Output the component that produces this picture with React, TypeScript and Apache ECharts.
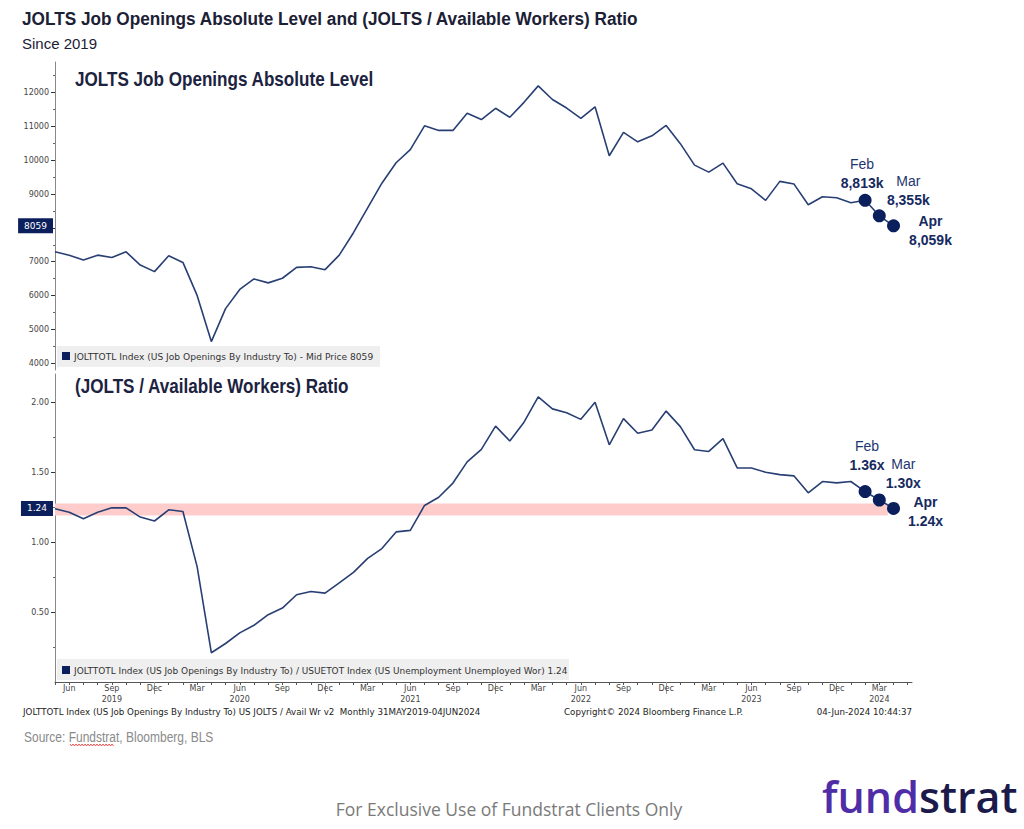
import React, { useEffect, useRef } from "react";
import * as echarts from "echarts";

// ---- Data (monthly, May 2019 .. Apr 2024) ----
const categories = [
  "2019-05","2019-06","2019-07","2019-08","2019-09","2019-10","2019-11","2019-12",
  "2020-01","2020-02","2020-03","2020-04","2020-05","2020-06","2020-07","2020-08","2020-09","2020-10","2020-11","2020-12",
  "2021-01","2021-02","2021-03","2021-04","2021-05","2021-06","2021-07","2021-08","2021-09","2021-10","2021-11","2021-12",
  "2022-01","2022-02","2022-03","2022-04","2022-05","2022-06","2022-07","2022-08","2022-09","2022-10","2022-11","2022-12",
  "2023-01","2023-02","2023-03","2023-04","2023-05","2023-06","2023-07","2023-08","2023-09","2023-10","2023-11","2023-12",
  "2024-01","2024-02","2024-03","2024-04",
];

// JOLTS job openings, thousands
const joltsLevel = [
  7291, 7193, 7047, 7193, 7125, 7291, 6901, 6706, 7174, 6979,
  6004, 4639, 5614, 6179, 6491, 6374, 6511, 6833, 6852, 6764,
  7193, 7856, 8588, 9319, 9923, 10313, 11015, 10879, 10879, 11386,
  11201, 11532, 11269, 11708, 12195, 11793, 11540, 11232, 11575, 10129,
  10819, 10542, 10719, 11025, 10488, 9854, 9647, 9913, 9302, 9154,
  8812, 9373, 9293, 8682, 8918, 8889, 8741, 8813, 8355, 8059,
];

// JOLTS / available workers ratio
const joltsRatio = [
  1.237, 1.213, 1.166, 1.213, 1.244, 1.244, 1.178, 1.150, 1.230, 1.218,
  0.824, 0.209, 0.275, 0.351, 0.405, 0.481, 0.528, 0.623, 0.646, 0.635,
  0.708, 0.783, 0.883, 0.953, 1.072, 1.083, 1.261, 1.320, 1.421, 1.572,
  1.662, 1.828, 1.721, 1.856, 2.036, 1.951, 1.923, 1.876, 1.999, 1.694,
  1.881, 1.777, 1.800, 1.935, 1.824, 1.659, 1.647, 1.739, 1.529, 1.529,
  1.498, 1.481, 1.472, 1.351, 1.432, 1.422, 1.432, 1.36, 1.30, 1.24,
];

const highlightIdx = [57, 58, 59];
const highlightNames = ["Feb", "Mar", "Apr"];

const levelTicks = [4000, 5000, 6000, 7000, 8000, 9000, 10000, 11000, 12000];
const levelTickLabels = [4000, 5000, 6000, 7000, 9000, 10000, 11000, 12000];
const levelMinorTicks = [4500, 5500, 6500, 7500, 8500, 9500, 10500, 11500, 12500];
const ratioTicks = [0.5, 1.0, 1.5, 2.0];
const ratioMinorTicks = [0.25, 0.75, 1.25, 1.75];

const monthLabelIdx = [1, 4, 7, 10, 13, 16, 19, 22, 25, 28, 31, 34, 37, 40, 43, 46, 49, 52, 55, 58];
const yearLabelIdx = [4, 13, 25, 37, 49, 58];
const yearLabels = ["2019", "2020", "2021", "2022", "2023", "2024"];
const yearSeparatorIdx = [7, 19, 31, 43, 55];

const bandRange = [1.19, 1.275];

const MONTH_ABBR = ["Jan","Feb","Mar","Apr","May","Jun","Jul","Aug","Sep","Oct","Nov","Dec"];

const NAVY = "#0b1f5c";
const LINE = "#283f74";
const SMALL = "DejaVu Sans";
const ARIAL = '"Liberation Sans", Arial, sans-serif';

export default function App() {
  const ref = useRef<HTMLDivElement>(null);

  useEffect(() => {
    document.body.style.margin = "0";
    const chart = echarts.init(ref.current!, null, { renderer: "svg" });

    const allMonthTicks = categories.map((_, i) => i).concat([60]);
    const xMax = 60.3;

    const levelData = joltsLevel.map((v, i) => [i, v]);
    const ratioData = joltsRatio.map((v, i) => [i, v]);

    const levelOffsets = [[-3, -27], [29, -25], [37, 5]];
    const ratioOffsets = [[2, -36], [24, -27], [32, 3]];

    const annoRich = {
      n: { fontSize: 14, fontFamily: ARIAL, color: "#1d3670", lineHeight: 19, align: "center" },
      nb: { fontSize: 14, fontFamily: ARIAL, fontWeight: "bold", color: "#152a5e", lineHeight: 19, align: "center" },
      b: { fontSize: 14, fontFamily: ARIAL, fontWeight: "bold", color: "#152a5e", lineHeight: 19, align: "center" },
    };

    const levelMarkers = highlightIdx.map((idx, k) => ({
      value: [idx, joltsLevel[idx]],
      label: {
        offset: levelOffsets[k],
        formatter:
          "{" + (k === 2 ? "nb" : "n") + "|" + highlightNames[k] + "}\n{b|" +
          (joltsLevel[idx] / 1000).toFixed(3).replace(".", ",") + "k}",
      },
    }));
    const ratioMarkers = highlightIdx.map((idx, k) => ({
      value: [idx, joltsRatio[idx]],
      label: {
        offset: ratioOffsets[k],
        formatter:
          "{" + (k === 2 ? "nb" : "n") + "|" + highlightNames[k] + "}\n{b|" +
          joltsRatio[idx].toFixed(2) + "x}",
      },
    }));

    const yLabelStyle = { fontFamily: SMALL, fontSize: 8, color: "#444", margin: 6 };

    const tagLabel = (text: string) => ({
      show: true,
      position: "start",
      formatter: text,
      backgroundColor: NAVY,
      color: "#fff",
      fontFamily: SMALL,
      fontSize: 9,
      padding: [3, 6, 3, 6],
      distance: 2,
    });

    const last = joltsLevel[joltsLevel.length - 1];
    const lastRatio = joltsRatio[joltsRatio.length - 1];

    // squiggle under "Fundstrat"
    const squiggle: number[][] = [];
    for (let x = 70, k = 0; x <= 114; x += 1.5, k++) squiggle.push([x, k % 2 === 0 ? 744 : 746]);

    const option: any = {
      animation: false,
      backgroundColor: "#ffffff",
      grid: [
        { left: 55, top: 62, width: 857, height: 308 },
        { left: 55, top: 374, width: 857, height: 308 },
      ],
      xAxis: [
        { type: "value", gridIndex: 0, min: 0, max: xMax, show: false },
        {
          type: "value",
          gridIndex: 1,
          min: 0,
          max: xMax,
          position: "bottom",
          splitLine: { show: false },
          axisLine: { show: true, lineStyle: { color: "#555", width: 1 } },
          axisTick: { show: true, customValues: allMonthTicks, length: 3, lineStyle: { color: "#555" } },
          axisLabel: {
            show: true,
            customValues: monthLabelIdx,
            fontFamily: SMALL,
            fontSize: 8,
            color: "#444",
            margin: 1,
            lineHeight: 11,
            formatter: (v: number) => {
              const i = Math.round(v);
              const m = MONTH_ABBR[parseInt(categories[i].slice(5), 10) - 1];
              const yi = yearLabelIdx.indexOf(i);
              return yi >= 0 ? m + "\n" + yearLabels[yi] : m;
            },
          },
        },
        {
          type: "value",
          gridIndex: 1,
          min: 0,
          max: xMax,
          position: "bottom",
          offset: 11,
          splitLine: { show: false },
          axisLine: { show: false },
          axisTick: { show: true, customValues: yearSeparatorIdx, length: 12, lineStyle: { color: "#999" } },
          axisLabel: { show: false },
        },
      ],
      yAxis: [
        {
          type: "value",
          gridIndex: 0,
          position: "left",
          min: 3800,
          max: 12900,
          splitLine: { show: false },
          axisLine: { show: true, lineStyle: { color: "#888" } },
          axisTick: { show: true, customValues: levelTicks, length: 4, lineStyle: { color: "#333" } },
          axisLabel: { ...yLabelStyle, customValues: levelTickLabels, formatter: (v: number) => String(v) },
        },
        {
          type: "value",
          gridIndex: 0,
          position: "left",
          min: 3800,
          max: 12900,
          splitLine: { show: false },
          axisLine: { show: false },
          axisTick: { show: true, customValues: levelMinorTicks, length: 2, lineStyle: { color: "#666" } },
          axisLabel: { show: false },
        },
        {
          type: "value",
          gridIndex: 1,
          position: "left",
          min: 0,
          max: 2.2,
          splitLine: { show: false },
          axisLine: { show: true, lineStyle: { color: "#888" } },
          axisTick: { show: true, customValues: ratioTicks, length: 4, lineStyle: { color: "#333" } },
          axisLabel: { ...yLabelStyle, customValues: ratioTicks, formatter: (v: number) => v.toFixed(2) },
        },
        {
          type: "value",
          gridIndex: 1,
          position: "left",
          min: 0,
          max: 2.2,
          splitLine: { show: false },
          axisLine: { show: false },
          axisTick: { show: true, customValues: ratioMinorTicks, length: 2, lineStyle: { color: "#666" } },
          axisLabel: { show: false },
        },
      ],
      series: [
        {
          type: "line",
          xAxisIndex: 0,
          yAxisIndex: 0,
          data: levelData,
          symbol: "none",
          lineStyle: { color: LINE, width: 1.6 },
          z: 3,
          markLine: {
            silent: true,
            symbol: ["none", "none"],
            lineStyle: { color: "rgba(0,0,0,0)", width: 1, type: "solid" },
            label: tagLabel(String(last)),
            data: [{ yAxis: last }],
          },
        },
        {
          type: "scatter",
          xAxisIndex: 0,
          yAxisIndex: 0,
          data: levelMarkers,
          symbolSize: 13,
          itemStyle: { color: NAVY, opacity: 1 },
          z: 5,
          label: { show: true, position: "inside", rich: annoRich },
        },
        {
          type: "line",
          xAxisIndex: 1,
          yAxisIndex: 2,
          data: ratioData,
          symbol: "none",
          lineStyle: { color: LINE, width: 1.6 },
          z: 3,
          markArea: {
            silent: true,
            itemStyle: { color: "#ffcccc" },
            data: [[{ xAxis: 0, yAxis: bandRange[0] }, { xAxis: 58.6, yAxis: bandRange[1] }]],
          },
          markLine: {
            silent: true,
            symbol: ["none", "none"],
            lineStyle: { color: "rgba(0,0,0,0)", width: 1, type: "solid" },
            label: tagLabel(lastRatio.toFixed(2)),
            data: [{ yAxis: lastRatio }],
          },
        },
        {
          type: "scatter",
          xAxisIndex: 1,
          yAxisIndex: 2,
          data: ratioMarkers,
          symbolSize: 13,
          itemStyle: { color: NAVY, opacity: 1 },
          z: 5,
          label: { show: true, position: "inside", rich: annoRich },
        },
      ],
      graphic: [
        {
          type: "text", x: 22, y: 19, scaleX: 0.93,
          style: {
            text: "JOLTS Job Openings Absolute Level and (JOLTS / Available Workers) Ratio",
            fontFamily: ARIAL, fontWeight: "bold", fontSize: 18.5, fill: "#1b2035", verticalAlign: "middle",
          },
        },
        {
          type: "text", x: 22, y: 43,
          style: { text: "Since 2019", fontFamily: ARIAL, fontSize: 15, fill: "#1b2035", verticalAlign: "middle" },
        },
        {
          type: "text", x: 75, y: 79, scaleX: 0.855,
          style: {
            text: "JOLTS Job Openings Absolute Level",
            fontFamily: ARIAL, fontWeight: "bold", fontSize: 20, fill: "#1c2340", verticalAlign: "middle",
          },
        },
        {
          type: "text", x: 75, y: 386, scaleX: 0.855,
          style: {
            text: "(JOLTS / Available Workers) Ratio",
            fontFamily: ARIAL, fontWeight: "bold", fontSize: 20, fill: "#1c2340", verticalAlign: "middle",
          },
        },
        // legend boxes
        { type: "rect", shape: { x: 57, y: 346, width: 323, height: 21 }, style: { fill: "#efefef" }, z: 10 },
        { type: "rect", shape: { x: 62, y: 352, width: 8, height: 8 }, style: { fill: NAVY }, z: 11 },
        {
          type: "text", x: 74, y: 356.5, z: 11,
          style: {
            text: "JOLTTOTL Index (US Job Openings By Industry To) - Mid Price " + last,
            fontFamily: SMALL, fontSize: 9.1, fill: "#333", verticalAlign: "middle",
          },
        },
        { type: "rect", shape: { x: 57, y: 659, width: 512, height: 21 }, style: { fill: "#efefef" }, z: 10 },
        { type: "rect", shape: { x: 62, y: 666, width: 8, height: 8 }, style: { fill: NAVY }, z: 11 },
        {
          type: "text", x: 74, y: 670.5, z: 11,
          style: {
            text: "JOLTTOTL Index (US Job Openings By Industry To) / USUETOT Index (US Unemployment Unemployed Wor) " + lastRatio.toFixed(2),
            fontFamily: SMALL, fontSize: 8.95, fill: "#333", verticalAlign: "middle",
          },
        },
        // footer
        {
          type: "text", x: 23, y: 712,
          style: {
            text: "JOLTTOTL Index (US Job Openings By Industry To) US JOLTS / Avail Wr v2  Monthly 31MAY2019-04JUN2024",
            fontFamily: SMALL, fontSize: 8.7, fill: "#222", verticalAlign: "middle",
          },
        },
        {
          type: "text", x: 564, y: 712,
          style: { text: "Copyright\u00A9 2024 Bloomberg Finance L.P.", fontFamily: SMALL, fontSize: 8.7, fill: "#222", verticalAlign: "middle" },
        },
        {
          type: "text", x: 912, y: 712,
          style: { text: "04-Jun-2024 10:44:37", fontFamily: SMALL, fontSize: 8.7, fill: "#222", verticalAlign: "middle", align: "right" },
        },
        {
          type: "text", x: 24, y: 737, scaleX: 0.8,
          style: { text: "Source: Fundstrat, Bloomberg, BLS", fontFamily: ARIAL, fontSize: 15, fill: "#8a8a8a", verticalAlign: "middle" },
        },
        { type: "polyline", shape: { points: squiggle }, style: { stroke: "#e03030", lineWidth: 0.8, fill: "none" } },
        {
          type: "text", x: 509, y: 809,
          style: { text: "For Exclusive Use of Fundstrat Clients Only", fontFamily: '"Open Sans"', fontSize: 17.5, fill: "#7a7a7a", align: "center", verticalAlign: "middle" },
        },
        {
          type: "text", x: 822, y: 818,
          style: {
            text: "{f|fund}{s|strat}",
            verticalAlign: "bottom",
            rich: {
              f: { fontFamily: '"Open Sans"', fontSize: 43, fontWeight: 600, fill: "#4f2da6", color: "#4f2da6" },
              s: { fontFamily: '"Open Sans"', fontSize: 43, fontWeight: 600, fill: "#1b1a4b", color: "#1b1a4b" },
            },
          },
        },
      ],
    };

    chart.setOption(option);
    return () => chart.dispose();
  }, []);

  return <div ref={ref} style={{ width: 1024, height: 829 }} />;
}
